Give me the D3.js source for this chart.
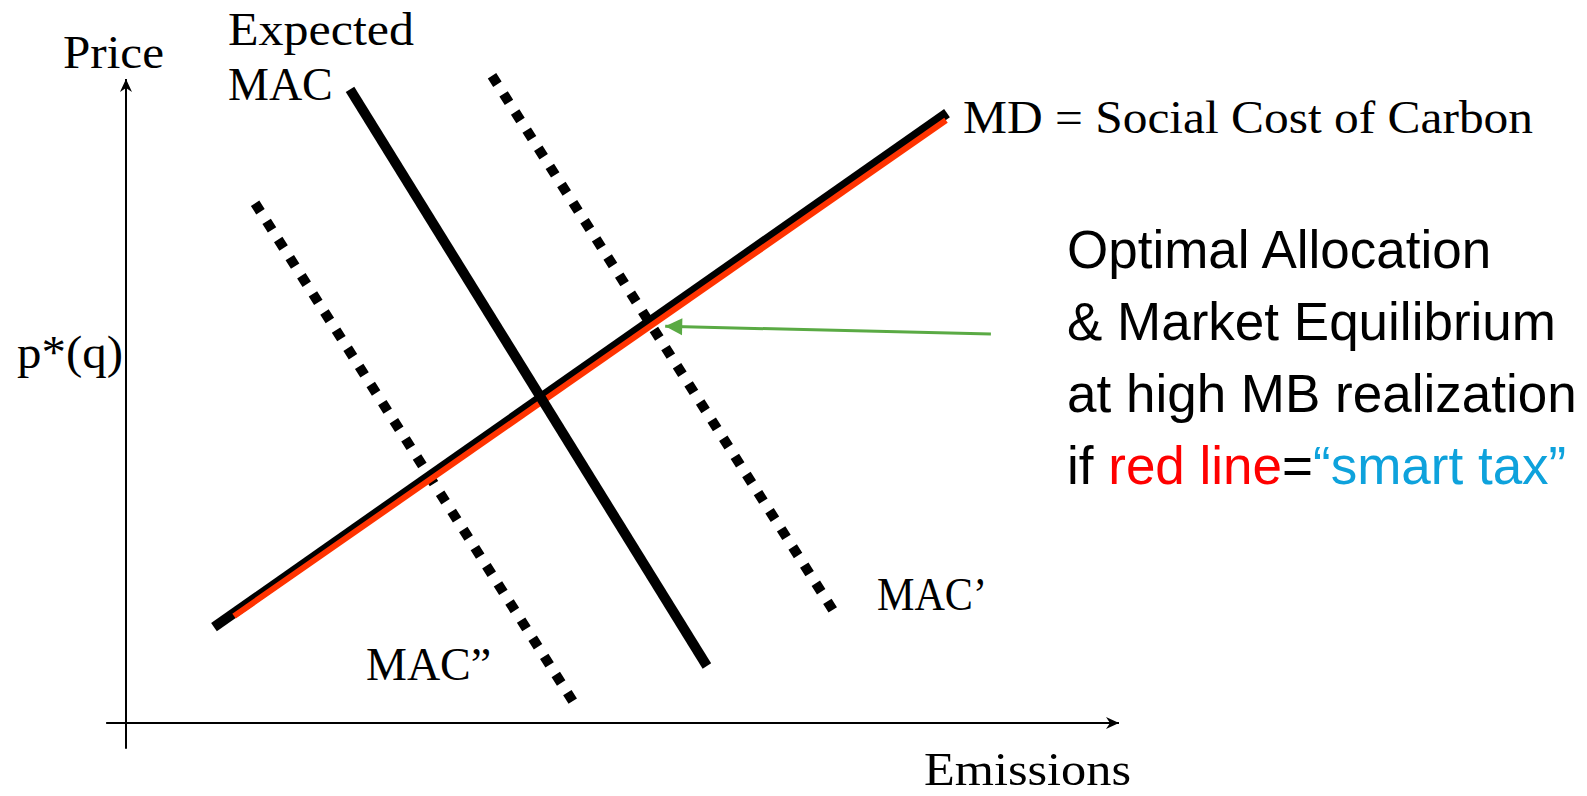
<!DOCTYPE html>
<html>
<head>
<meta charset="utf-8">
<script src="https://cdn.jsdelivr.net/npm/d3@7"></script>
<style>
  html, body { margin: 0; padding: 0; background: #fff; }
  svg { display: block; }
</style>
</head>
<body>
<svg id="chart" width="1587" height="796"></svg>
<script>
// ---- data (emissions, price in abstract units 0..100) ----
const expectedMAC = [{e: 22.56, p: 98.4}, {e: 58.5, p: 8.85}];
const macPrime = [{e: 36.86, p: 100.5}, {e: 71.7, p: 16.3}];        // MAC'
const macDoublePrime = [{e: 13.0, p: 80.7}, {e: 45.5, p: 2.17}];   // MAC''
const mdLine = [{e: 8.86, p: 14.9}, {e: 82.68, p: 94.7}];          // MD = SCC
const smartTaxLine = [{e: 10.88, p: 16.6}, {e: 82.58, p: 93.6}];   // red line
const pointerArrow = [{e: 87.1, p: 60.4}, {e: 54.3, p: 61.6}];     // green arrow
const xAxisExtent = [-2, 100];
const yAxisExtent = [-4, 100];

const axisTitles = ["Price", "Emissions"];
const curveLabels = ["Expected", "MAC", "MD = Social Cost of Carbon", "MAC\u2019", "MAC\u201D", "p*(q)"];
const noteLines = ["Optimal Allocation", "& Market Equilibrium", "at high MB realization"];
const noteLastLine = [
  {t: "if ", c: "#000000"},
  {t: "red line", c: "#ff0000"},
  {t: "=", c: "#000000"},
  {t: "\u201Csmart tax\u201D", c: "#0ea2dc"}
];

// ---- drawing ----
const svg = d3.select("#chart");
const x = d3.scaleLinear().domain([0, 100]).range([126, 1119]);
const y = d3.scaleLinear().domain([0, 100]).range([723, 79]);
const line = d3.line().x(d => x(d.e)).y(d => y(d.p));

const defs = svg.append("defs");
defs.append("marker")
  .attr("id", "axArrow").attr("markerUnits", "userSpaceOnUse")
  .attr("viewBox", "-14 -7 15 14").attr("refX", 0).attr("refY", 0)
  .attr("markerWidth", 15).attr("markerHeight", 14).attr("orient", "auto")
  .append("path").attr("d", "M0,0 L-13,-6 L-9,0 L-13,6 Z").attr("fill", "#000");
defs.append("marker")
  .attr("id", "greenArrow").attr("markerUnits", "userSpaceOnUse")
  .attr("viewBox", "-19 -10 20 20").attr("refX", 0).attr("refY", 0)
  .attr("markerWidth", 20).attr("markerHeight", 20).attr("orient", "auto")
  .append("path").attr("d", "M0,0 L-17,-8.5 L-17,8.5 Z").attr("fill", "#5aaa44");

// axes
svg.append("line")
  .attr("x1", x(xAxisExtent[0])).attr("x2", x(xAxisExtent[1]))
  .attr("y1", y(0)).attr("y2", y(0))
  .attr("stroke", "#000").attr("stroke-width", 2)
  .attr("marker-end", "url(#axArrow)");
svg.append("line")
  .attr("x1", x(0)).attr("x2", x(0))
  .attr("y1", y(yAxisExtent[0])).attr("y2", y(yAxisExtent[1]))
  .attr("stroke", "#000").attr("stroke-width", 2)
  .attr("marker-end", "url(#axArrow)");

// dotted MAC curves
[macPrime, macDoublePrime].forEach(d => {
  svg.append("path").datum(d).attr("d", line)
    .attr("fill", "none").attr("stroke", "#000")
    .attr("stroke-width", 10).attr("stroke-dasharray", "10,11.5")
    .attr("stroke-linecap", "butt");
});

// MD line (black) and smart-tax red line
svg.append("path").datum(mdLine).attr("d", line)
  .attr("fill", "none").attr("stroke", "#000").attr("stroke-width", 10)
  .attr("stroke-linecap", "butt");
svg.append("path").datum(smartTaxLine).attr("d", line)
  .attr("fill", "none").attr("stroke", "#ff3300").attr("stroke-width", 6)
  .attr("stroke-linecap", "butt");

// expected MAC solid
svg.append("path").datum(expectedMAC).attr("d", line)
  .attr("fill", "none").attr("stroke", "#000").attr("stroke-width", 10)
  .attr("stroke-linecap", "butt");

// green pointer arrow
svg.append("path").datum(pointerArrow).attr("d", line)
  .attr("fill", "none").attr("stroke", "#5aaa44").attr("stroke-width", 3)
  .attr("marker-end", "url(#greenArrow)");

// serif labels
const serif = "'Liberation Serif', 'Times New Roman', serif";
const serifLabels = [
  {t: axisTitles[0], x: 63, y: 68, w: 101},
  {t: axisTitles[1], x: 924, y: 785, w: 207},
  {t: curveLabels[0], x: 228, y: 45, w: 186},
  {t: curveLabels[1], x: 228, y: 100, w: null},
  {t: curveLabels[2], x: 963, y: 133, w: 570},
  {t: curveLabels[3], x: 877, y: 610, w: 110},
  {t: curveLabels[4], x: 366, y: 680, w: null},
  {t: curveLabels[5], x: 17, y: 368, w: 106}
];
serifLabels.forEach(d => {
  const t = svg.append("text")
    .attr("x", d.x).attr("y", d.y)
    .attr("font-family", serif).attr("font-size", 46)
    .attr("fill", "#000")
    .text(d.t);
  if (d.w) t.attr("textLength", d.w).attr("lengthAdjust", "spacingAndGlyphs");
});

// note block
const sans = "'Liberation Sans', Arial, sans-serif";
const noteX = 1067, noteY0 = 268, noteDy = 72;
noteLines.forEach((t, i) => {
  svg.append("text").attr("x", noteX).attr("y", noteY0 + i * noteDy)
    .attr("font-family", sans).attr("font-size", 53).attr("fill", "#000")
    .text(t);
});
const last = svg.append("text").attr("x", noteX).attr("y", noteY0 + 3 * noteDy)
  .attr("font-family", sans).attr("font-size", 53);
noteLastLine.forEach(s => {
  last.append("tspan").attr("fill", s.c).text(s.t);
});
</script>
</body>
</html>
